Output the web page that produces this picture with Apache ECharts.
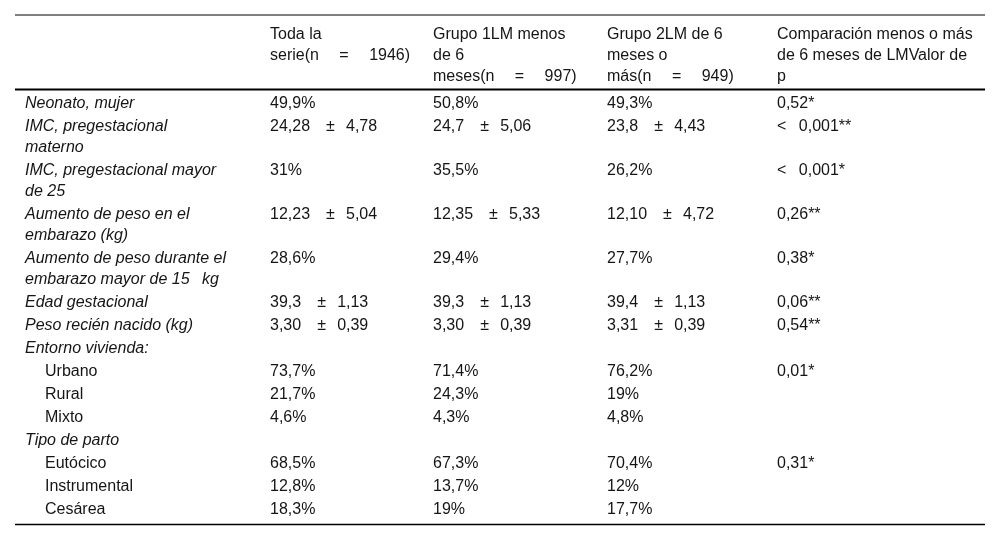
<!DOCTYPE html>
<html>
<head>
<meta charset="utf-8">
<script src="https://cdn.jsdelivr.net/npm/echarts@6/dist/echarts.min.js"></script>
<style>
html,body{margin:0;padding:0;background:#fff;}
#chart{width:1000px;height:541px;}
</style>
</head>
<body>
<div id="chart"></div>
<script>
// ---------- DATA ----------
var WIDE = '\u2003\u00a0';   // wide gap
var NARROW = '\u2002\u00a0'; // narrow gap
var columnHeaders = [
  '',
  'Toda la\nserie(n' + WIDE + '=' + WIDE + '1946)',
  'Grupo 1LM menos\nde 6\nmeses(n' + WIDE + '=' + WIDE + '997)',
  'Grupo 2LM de 6\nmeses o\nmás(n' + WIDE + '=' + WIDE + '949)',
  'Comparación menos o más\nde 6 meses de LMValor de\np'
];
var rowLabels = [
  'Neonato, mujer',
  'IMC, pregestacional\nmaterno',
  'IMC, pregestacional mayor\nde 25',
  'Aumento de peso en el\nembarazo (kg)',
  'Aumento de peso durante el\nembarazo mayor de 15' + NARROW + 'kg',
  'Edad gestacional',
  'Peso recién nacido (kg)',
  'Entorno vivienda:',
  'Urbano',
  'Rural',
  'Mixto',
  'Tipo de parto',
  'Eutócico',
  'Instrumental',
  'Cesárea'
];
var subRows = ['Urbano', 'Rural', 'Mixto', 'Eutócico', 'Instrumental', 'Cesárea'];
var totalSeries = ['49,9%', '24,28 ± 4,78', '31%', '12,23 ± 5,04', '28,6%', '39,3 ± 1,13', '3,30 ± 0,39', '', '73,7%', '21,7%', '4,6%', '', '68,5%', '12,8%', '18,3%'];
var group1Series = ['50,8%', '24,7 ± 5,06', '35,5%', '12,35 ± 5,33', '29,4%', '39,3 ± 1,13', '3,30 ± 0,39', '', '71,4%', '24,3%', '4,3%', '', '67,3%', '13,7%', '19%'];
var group2Series = ['49,3%', '23,8 ± 4,43', '26,2%', '12,10 ± 4,72', '27,7%', '39,4 ± 1,13', '3,31 ± 0,39', '', '76,2%', '19%', '4,8%', '', '70,4%', '12%', '17,7%'];
var pValues = ['0,52*', '< 0,001**', '< 0,001*', '0,26**', '0,38*', '0,06**', '0,54**', '', '0,01*', '', '', '', '0,31*', '', ''];

// ---------- LAYOUT ----------
var COL_X = [25, 270, 433, 607, 777];
var INDENT = 20;
var LINE_H = 21;
var ROW_EXTRA = 2;
var Y_SHIFT = 1.5;
var HEADER_FIRST_LINE = 33;
var BODY_FIRST_LINE = 102;
var RULES = [{y: 15, w: 1}, {y: 89.5, w: 2}, {y: 524.5, w: 1.3}];
var RULE_X = [15, 985];
var FONT = '"Liberation Sans", Arial, Helvetica, sans-serif';
var FONT_SIZE = 16;
var COLOR = '#151515';
var PM_BEFORE = '\u2003';
var PM_AFTER = '\u2002\u2009';

function spaced(s) {
  return s.replace(' ± ', PM_BEFORE + '±' + PM_AFTER).replace('< ', '<' + NARROW);
}

var columns = [rowLabels, totalSeries, group1Series, group2Series, pValues];
var cells = [];
// header
columnHeaders.forEach(function (h, c) {
  if (h) cells.push({value: [COL_X[c], HEADER_FIRST_LINE], text: h, italic: false});
});
// body
var y = BODY_FIRST_LINE;
rowLabels.forEach(function (lab, r) {
  var lines = 1;
  columns.forEach(function (col) { lines = Math.max(lines, col[r].split('\n').length); });
  var isSub = subRows.indexOf(lab) >= 0;
  columns.forEach(function (col, c) {
    var t = col[r];
    if (!t) return;
    var x = COL_X[c] + (c === 0 && isSub ? INDENT : 0);
    cells.push({value: [x, y], text: c === 0 ? t : spaced(t), italic: c === 0 && !isSub});
  });
  y += lines * LINE_H + ROW_EXTRA;
});

var chart = echarts.init(document.getElementById('chart'), null, {renderer: 'canvas'});
chart.setOption({
  backgroundColor: '#ffffff',
  animation: false,
  grid: {left: 0, right: 0, top: 0, bottom: 0},
  xAxis: {type: 'value', min: 0, max: 1000, show: false},
  yAxis: {type: 'value', min: 0, max: 541, inverse: true, show: false},
  series: [
    {
      type: 'custom',
      data: RULES.map(function (r) { return [RULE_X[0], r.y, RULE_X[1], r.w]; }),
      renderItem: function (params, api) {
        var p1 = api.coord([api.value(0), api.value(1)]);
        var p2 = api.coord([api.value(2), api.value(1)]);
        return {
          type: 'line',
          shape: {x1: p1[0], y1: p1[1], x2: p2[0], y2: p2[1]},
          style: {stroke: '#000', lineWidth: api.value(3)}
        };
      }
    },
    {
      type: 'custom',
      data: cells.map(function (c) { return c.value; }),
      renderItem: function (params, api) {
        var cell = cells[params.dataIndex];
        var p = api.coord([api.value(0), api.value(1)]);
        return {
          type: 'text',
          x: p[0],
          y: p[1] - LINE_H / 2 + Y_SHIFT,
          style: {
            text: cell.text,
            fill: COLOR,
            font: (cell.italic ? 'italic ' : '') + FONT_SIZE + 'px ' + FONT,
            lineHeight: LINE_H,
            align: 'left',
            verticalAlign: 'top'
          }
        };
      }
    }
  ]
});
</script>
</body>
</html>
